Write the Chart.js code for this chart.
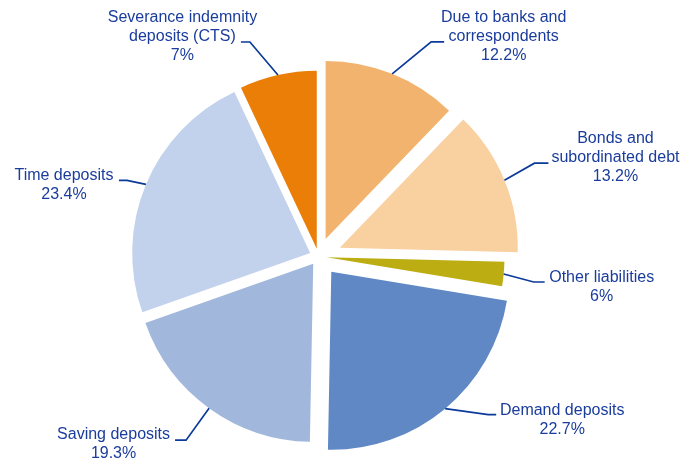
<!DOCTYPE html>
<html>
<head>
<meta charset="utf-8">
<script src="https://cdn.jsdelivr.net/npm/chart.js@4"></script>
<style>
  html, body { margin: 0; padding: 0; background: #ffffff; }
  #wrap { width: 681px; height: 459px; position: relative; }
</style>
</head>
<body>
<div id="wrap"><canvas id="c" width="681" height="459"></canvas></div>
<script>
// ---- data ----
const categories = [
  ["Due to banks and", "correspondents"],
  ["Bonds and", "subordinated debt"],
  ["Other liabilities"],
  ["Demand deposits"],
  ["Saving deposits"],
  ["Time deposits"],
  ["Severance indemnity", "deposits (CTS)"]
];
const shareValues = [12.2, 13.2, 2.2, 22.7, 19.3, 23.4, 7];
const percentLabels = ["12.2%", "13.2%", "6%", "22.7%", "19.3%", "23.4%", "7%"];

// ---- styles ----
const sliceColors = ["#F2B36E", "#F9D0A0", "#BCAD13", "#5F88C5", "#A1B8DC", "#C2D2EC", "#EA7E07"];
const explodeDist = [19, 23, 8, 20, 9, 9, 8];
// leader layout: elbow offset from anchor, horizontal run, text offset from run end
const leaderLayout = [
  {ex: 39, ey: -32, hx: 13, tx: 59.5, ty: -24},
  {ex: 30, ey: -17, hx: 14, tx: 67, ty: -25},
  {ex: 30, ey: 8, hx: 11, tx: 57, ty: -4},
  {ex: 43, ey: 6, hx: 8, tx: 66, ty: -4},
  {ex: -23, ey: 32, hx: -11, tx: -61.5, ty: -6},
  {ex: -19, ey: -4, hx: -8, tx: -55, ty: -5},
  {ex: -28, ey: -33, hx: -9, tx: -58.5, ty: -24}
];
const textColor = "#1A3C9C";
const lineColor = "#0B3A9A";
const fontSpec = "16px 'Liberation Sans', Arial, sans-serif";
const lineHeight = 19;

const explodePlugin = {
  id: 'explode',
  afterDatasetUpdate(chart, args) {
    const arcs = args.meta.data;
    arcs.forEach((arc, i) => {
      const mid = (arc.startAngle + arc.endAngle) / 2;
      const d = explodeDist[i] || 0;
      arc.x += Math.cos(mid) * d;
      arc.y += Math.sin(mid) * d;
    });
  }
};

const labelPlugin = {
  id: 'leaderLabels',
  afterDraw(chart) {
    const ctx = chart.ctx;
    const arcs = chart.getDatasetMeta(0).data;
    ctx.save();
    ctx.font = fontSpec;
    ctx.textAlign = 'center';
    ctx.textBaseline = 'middle';
    arcs.forEach((arc, i) => {
      const mid = (arc.startAngle + arc.endAngle) / 2;
      const ax = arc.x + Math.cos(mid) * arc.outerRadius;
      const ay = arc.y + Math.sin(mid) * arc.outerRadius;
      const L = leaderLayout[i];
      const exx = ax + L.ex, eyy = ay + L.ey;
      const hxx = exx + L.hx;
      ctx.strokeStyle = lineColor;
      ctx.lineWidth = 1.7;
      ctx.beginPath();
      ctx.moveTo(ax, ay);
      ctx.lineTo(exx, eyy);
      ctx.lineTo(hxx, eyy);
      ctx.stroke();
      const lines = categories[i].concat([percentLabels[i]]);
      ctx.fillStyle = textColor;
      lines.forEach((t, k) => {
        ctx.fillText(t, hxx + L.tx, eyy + L.ty + k * lineHeight);
      });
    });
    ctx.restore();
  }
};

new Chart(document.getElementById('c'), {
  type: 'pie',
  data: {
    labels: categories.map(c => c.join(' ')),
    datasets: [{
      data: shareValues,
      backgroundColor: sliceColors,
      borderWidth: 0,
      radius: 178
    }]
  },
  options: {
    responsive: false,
    animation: false,
    events: [],
    layout: { padding: { left: 0, right: 44, top: 54, bottom: 0 } },
    plugins: {
      legend: { display: false },
      tooltip: { enabled: false }
    }
  },
  plugins: [explodePlugin, labelPlugin]
});
</script>
</body>
</html>
